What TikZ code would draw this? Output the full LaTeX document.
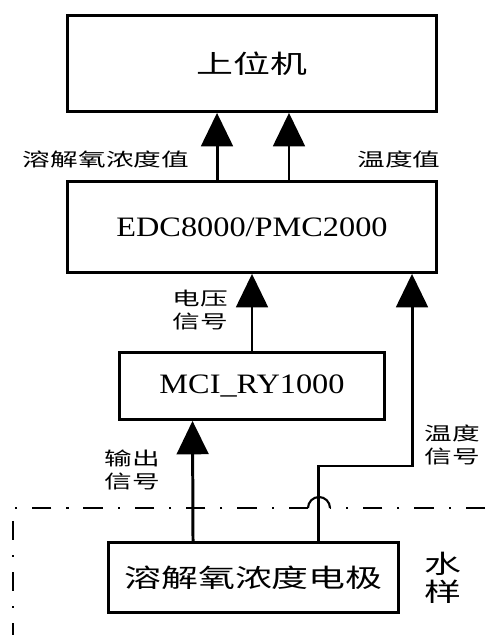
\documentclass[tikz,border=0pt]{standalone}
\usepackage{fontspec}
\setmainfont{Liberation Serif}
\newfontfamily\latinwide[FakeStretch=1.15]{Liberation Serif}
\newfontfamily\cjkwide[FakeStretch=1.45]{Noto Sans CJK SC}
\newfontfamily\cjklabel[FakeStretch=1.5]{Noto Sans CJK SC}
\usetikzlibrary{arrows.meta,positioning}
\tikzstyle{block} = [draw, line width=1.6pt, align=center, inner sep=0pt]
\tikzstyle{bigtext} = [font=\cjkwide\fontsize{14.5}{18}\selectfont]
\tikzstyle{idtext} = [font=\latinwide\fontsize{16}{19}\selectfont]
\tikzstyle{lbl} = [align=center, inner sep=0pt, font=\cjklabel\fontsize{10.5}{13.6}\selectfont]
\tikzstyle{sig} = [line width=1.7pt]
\tikzstyle{boundary} = [line width=1.2pt, dash pattern=on 11pt off 8.5pt on 1.2pt off 8.5pt]

\begin{document}
\begin{tikzpicture}[x=0.02cm, y=-0.02cm, >={Triangle[width=18pt,length=19pt]}]
\useasboundingbox (0,0) rectangle (485,635);
   \node (HostPC) at (252,63.5) [block, bigtext, minimum width=7.38cm, minimum height=1.92cm] {上位机};
   \node (Controller) at (252,227) [block, idtext, minimum width=7.38cm, minimum height=1.82cm] {EDC8000/PMC2000};
   \node (Converter) at (252,386) [block, idtext, minimum width=5.3cm, minimum height=1.34cm] {MCI\_RY1000} edge[sig,->] (Controller);
   \node (Electrode) at (253.5,577.5) [block, bigtext, minimum width=5.8cm, minimum height=1.4cm] {溶解氧浓度电极};

   % signal lines
   \draw[sig,->] ([xshift=-0.7cm]Controller.north) -- ([xshift=-0.7cm]HostPC.south);
   \draw[sig,->] ([xshift=0.74cm]Controller.north) -- ([xshift=0.74cm]HostPC.south);
   \draw[sig,->] ([xshift=-1.21cm]Electrode.north) -- ([xshift=-1.19cm]Converter.south);
   \coordinate (TempBend) at (412,466);
   \draw[sig,->] ([xshift=1.31cm]Electrode.north) |- (TempBend) -- (TempBend |- Controller.south);

   % water sample boundary with hop
   \coordinate (HopL) at (308,508);
   \coordinate (HopR) at (330,508);
   \draw[boundary] (485,508) -- (HopR);
   \draw[boundary] (HopL) -- (13,508) -- (13,635);
   \draw[line width=1.2pt] (HopL) arc[start angle=180, end angle=0, radius=0.22cm];

   % labels
   \node (DoValue) at (106,159) [lbl] {溶解氧浓度值};
   \node (TempValue) at (399,159) [lbl] {温度值};
   \node (VoltSignal) at (200,310) [lbl] {电压\\信号};
   \node (OutSignal) at (132,470) [lbl] {输出\\信号};
   \node (TempSignal) at (452,445) [lbl] {温度\\信号};
   \node (Water) at (443,578) [lbl, bigtext, align=center] {水\\[-2pt]样};

\end{tikzpicture}
\end{document}
